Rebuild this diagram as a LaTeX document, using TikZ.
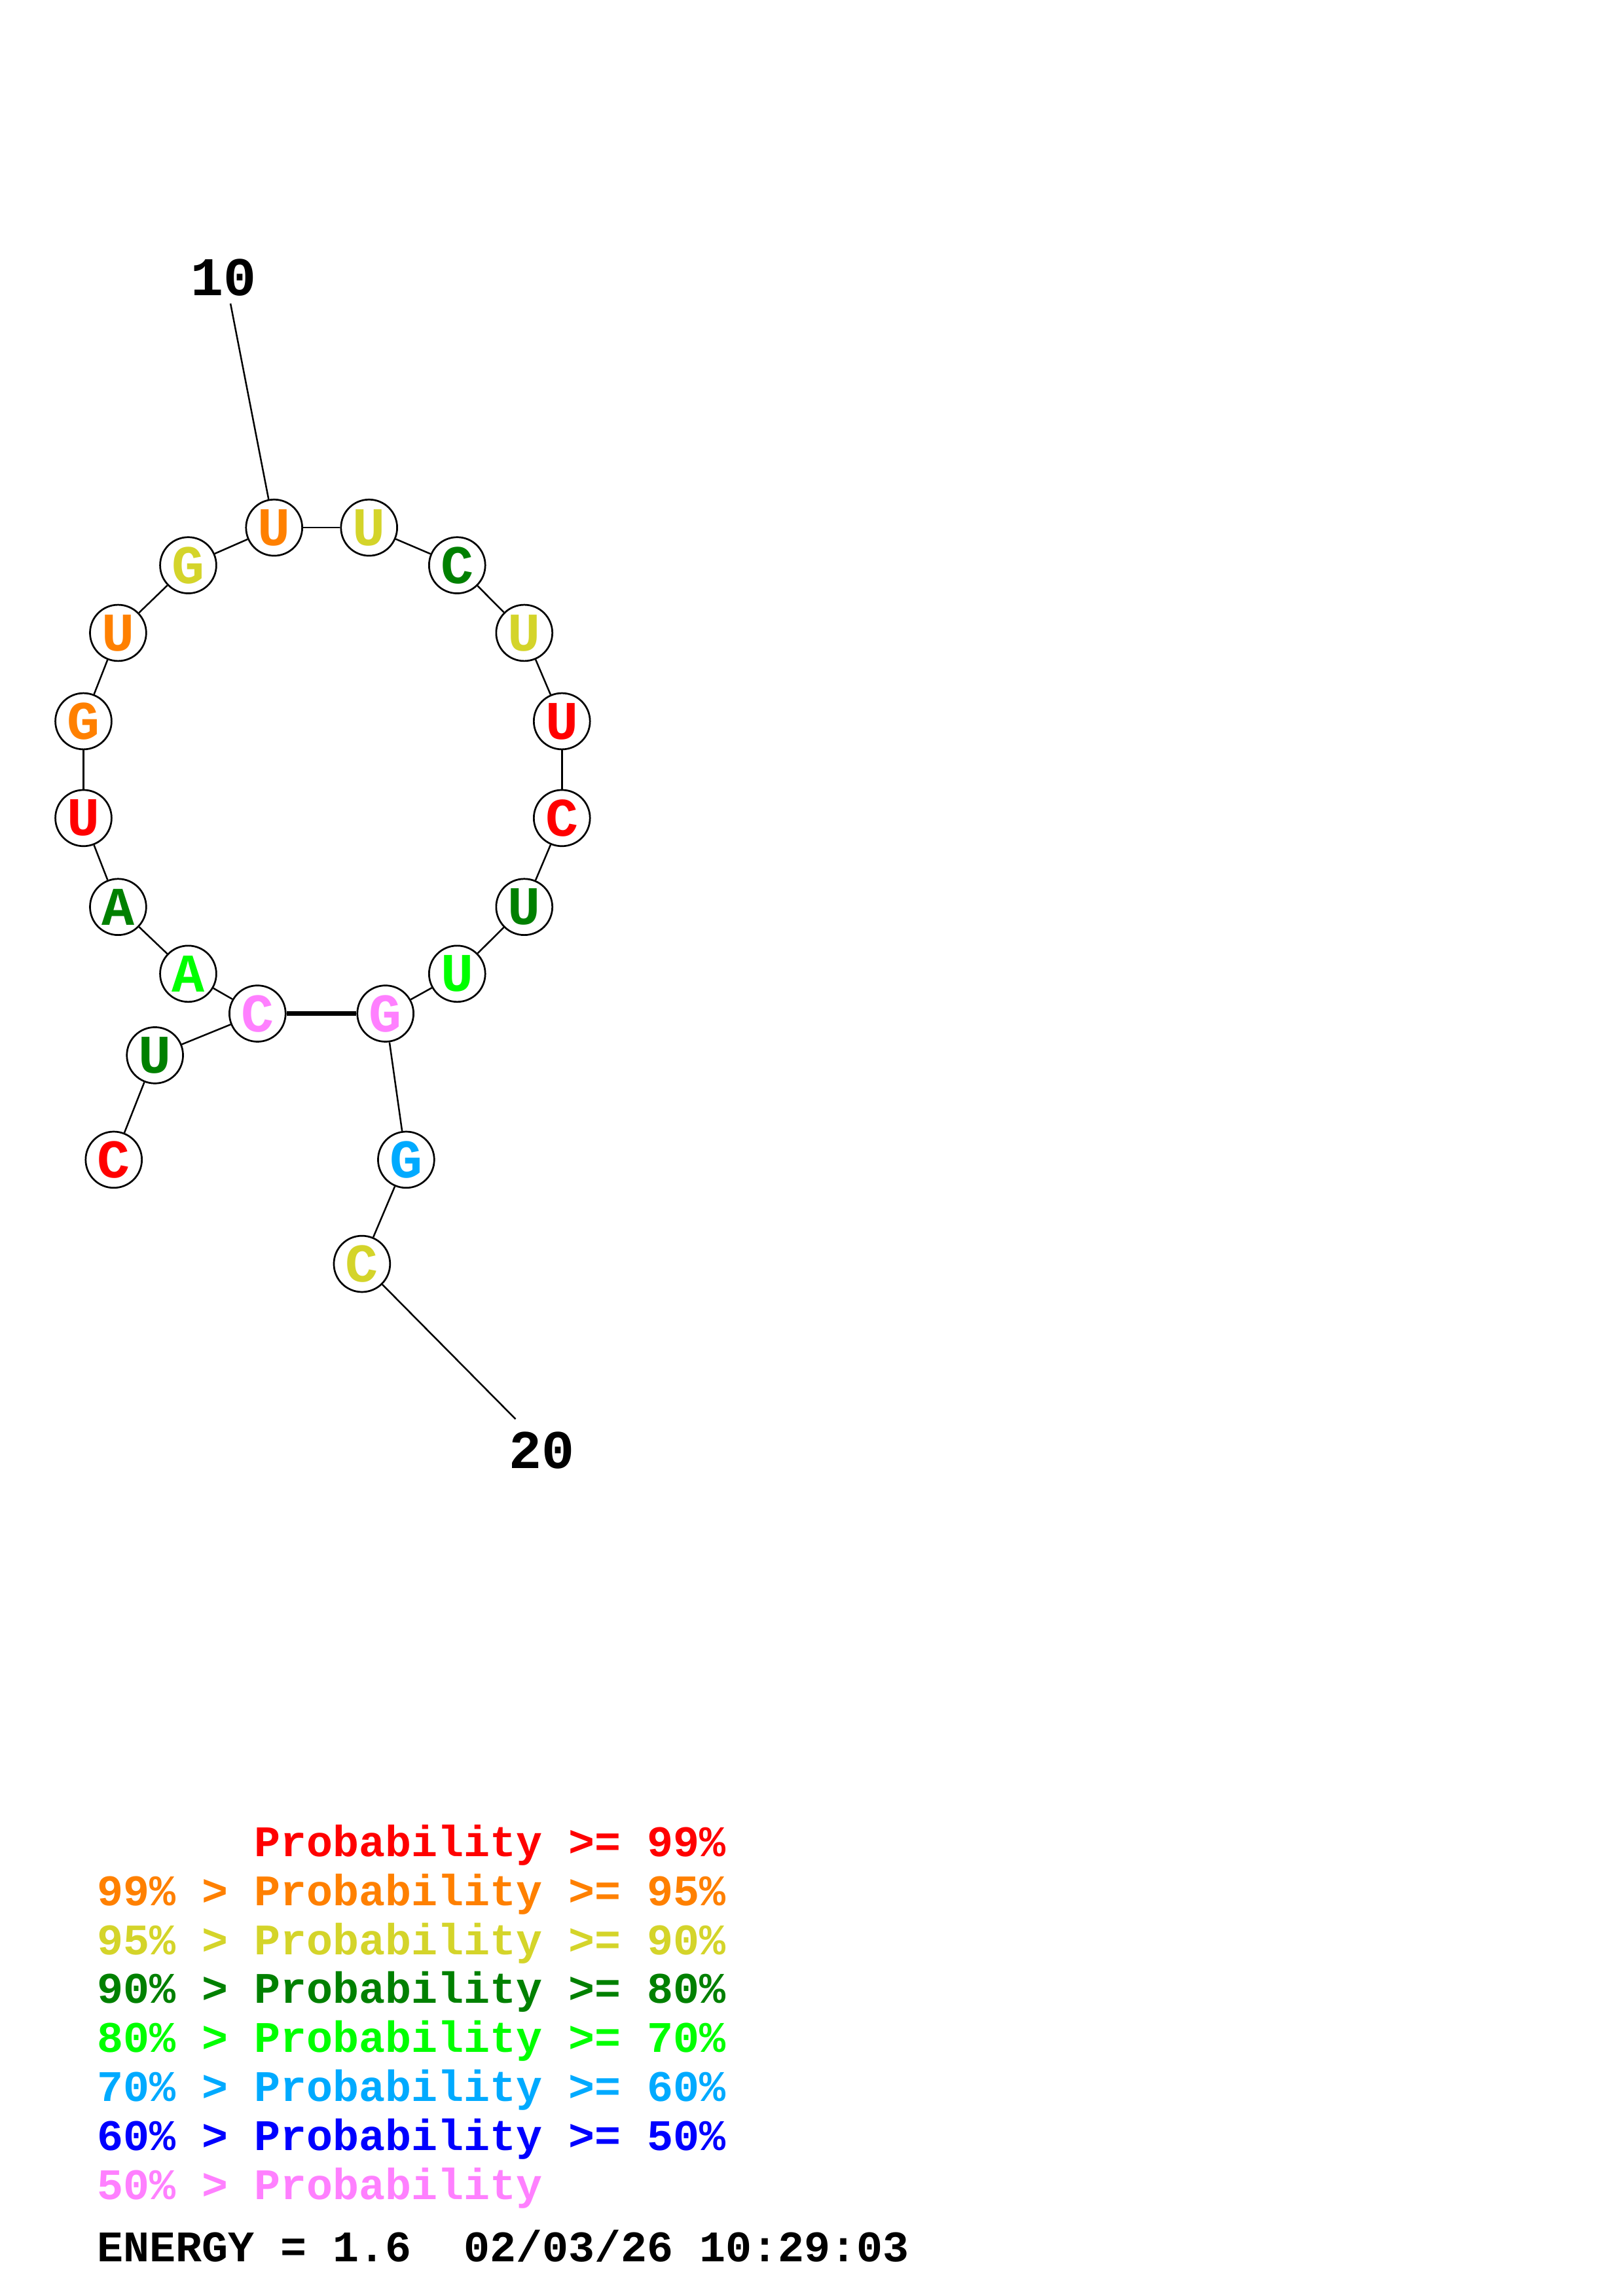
\documentclass[tikz,border=0pt]{standalone}
\usepackage{fontspec}
\setmonofont{Liberation Mono}
\definecolor{pr99}{RGB}{255,0,0}
\definecolor{pr95}{RGB}{255,128,0}
\definecolor{pr90}{RGB}{212,212,42}
\definecolor{pr80}{RGB}{0,128,0}
\definecolor{pr70}{RGB}{0,255,0}
\definecolor{pr60}{RGB}{0,170,255}
\definecolor{pr50}{RGB}{0,0,255}
\definecolor{prlow}{RGB}{255,128,255}
\begin{document}
\begin{tikzpicture}[x=1pt,y=-1pt]
        \useasboundingbox (0,0) rectangle (595,842);
        \begin{scope}[every node/.style={circle,draw,fill=white,line width=0.65pt,minimum size=20.6pt,inner sep=0pt,font=\ttfamily\bfseries\fontsize{20}{20}\selectfont}]
            \node[text=pr99] (1) at (41.7,425.3) {C};
            \node[text=pr80] (2) at (56.8,387.0) {U};
            \node[text=prlow] (3) at (94.4,371.7) {C};
            \node[text=pr70] (4) at (69.0,357.1) {A};
            \node[text=pr80] (5) at (43.3,332.6) {A};
            \node[text=pr99] (6) at (30.6,300.0) {U};
            \node[text=pr95] (7) at (30.6,264.5) {G};
            \node[text=pr95] (8) at (43.3,232.1) {U};
            \node[text=pr90] (9) at (69.0,207.3) {G};
            \node[text=pr95] (10) at (100.5,193.5) {U};
            \node[text=pr90] (11) at (135.3,193.5) {U};
            \node[text=pr80] (12) at (167.6,207.3) {C};
            \node[text=pr90] (13) at (192.2,232.1) {U};
            \node[text=pr99] (14) at (206.0,264.5) {U};
            \node[text=pr99] (15) at (206.0,300.0) {C};
            \node[text=pr80] (16) at (192.2,332.6) {U};
            \node[text=pr70] (17) at (167.6,357.1) {U};
            \node[text=prlow] (18) at (141.3,371.7) {G};
            \node[text=pr60] (19) at (148.9,425.3) {G};
            \node[text=pr90] (20) at (132.7,463.5) {C};
        \end{scope}
        \begin{scope}[every edge/.style={draw,line width=0.6pt}]
            \path
                (1) edge (2)
                (2) edge (3)
                (3) edge (4)
                (4) edge (5)
                (5) edge (6)
                (6) edge (7)
                (7) edge (8)
                (8) edge (9)
                (9) edge (10)
                (10) edge (11);
            \path
                (11) edge (12)
                (12) edge (13)
                (13) edge (14)
                (14) edge (15)
                (15) edge (16)
                (16) edge (17)
                (17) edge (18)
                (18) edge (19)
                (19) edge (20);
            \path (3) edge[line width=1.8pt] (18);
        \end{scope}
        \begin{scope}[every node/.style={inner sep=0pt,font=\ttfamily\bfseries\fontsize{20}{20}\selectfont}]
            \node (lab10) at (81.9,101.8) {10};
            \node (lab20) at (198.7,531.8) {20};
        \end{scope}
        \coordinate (tip10) at (84.5,111.3);
        \coordinate (tip20) at (189.0,520.4);
        \draw[line width=0.6pt] (10) -- (tip10);
        \draw[line width=0.6pt] (20) -- (tip20);
        \begin{scope}[every node/.style={anchor=base west,inner sep=0pt,font=\ttfamily\bfseries\fontsize{16}{16}\selectfont}]
            \node[text=pr99] (leg1) at (35.5,680.7) {\phantom{99\% > }Probability >= 99\%};
            \node[text=pr95] (leg2) at (35.5,698.7) {99\% > Probability >= 95\%};
            \node[text=pr90] (leg3) at (35.5,716.7) {95\% > Probability >= 90\%};
            \node[text=pr80] (leg4) at (35.5,734.7) {90\% > Probability >= 80\%};
            \node[text=pr70] (leg5) at (35.5,752.7) {80\% > Probability >= 70\%};
            \node[text=pr60] (leg6) at (35.5,770.7) {70\% > Probability >= 60\%};
            \node[text=pr50] (leg7) at (35.5,788.7) {60\% > Probability >= 50\%};
            \node[text=prlow] (leg8) at (35.5,806.7) {50\% > Probability};
            \node (energy) at (35.5,829.4) {ENERGY = 1.6~ 02/03/26 10:29:03};
        \end{scope}
\end{tikzpicture}
\end{document}
